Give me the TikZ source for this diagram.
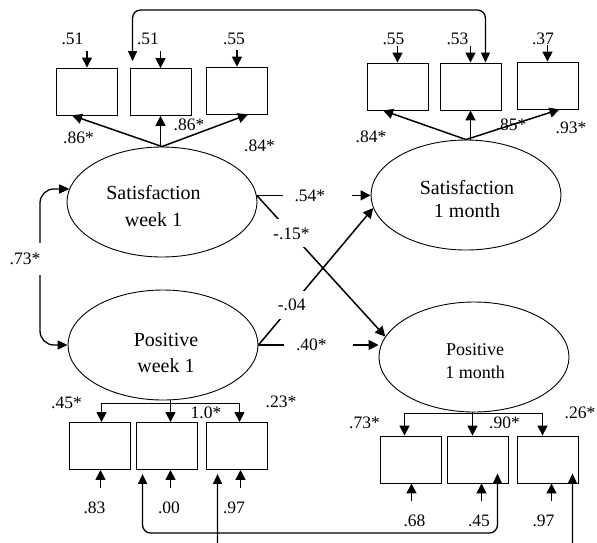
\documentclass[tikz,border=0pt]{standalone}
\usepackage{fontspec}
\setmainfont{Liberation Serif}
\usetikzlibrary{arrows.meta,shapes.geometric,calc}

\begin{document}
\begin{tikzpicture}[
  x=1pt,y=-1pt,
  lat/.style={draw,ellipse,line width=0.9pt,minimum width=190pt,minimum height=110pt,inner sep=0pt},
  ltxt/.style={align=center,inner sep=0pt,font=\fontsize{20}{27}\selectfont},
  obs/.style={draw,line width=0.9pt,minimum width=61pt,minimum height=47pt,inner sep=0pt},
  coef/.style={inner sep=1pt,font=\fontsize{17.5}{18}\selectfont},
  dcut/.style={coef,fill=white,minimum height=28pt},
  hcut/.style={coef,fill=white,text width=45pt,align=left,inner xsep=12pt},
  arr/.style={-{Triangle[length=10pt,width=10pt]},line width=1.5pt},
  dbl/.style={{Triangle[length=10pt,width=9pt]}-{Triangle[length=10pt,width=9pt]},line width=1.3pt,rounded corners=8pt}
]
\useasboundingbox (0,0) rectangle (597,542);
\clip (0,0) rectangle (597,542);

% latent factors
\node[lat] (sw) at (162,202) {};
\node[lat] (pw) at (163,345) {};
\node[lat] (sm) at (466,195) {};
\node[lat] (pm) at (474,357) {};
\node[ltxt] (swt) at (153.5,206.5) {Satisfaction\\week 1};
\node[ltxt,font=\fontsize{20}{26}\selectfont] (pwt) at (166,353) {Positive\\week 1};
\node[ltxt,font=\fontsize{20}{23}\selectfont] (smt) at (467,199.5) {Satisfaction\\1 month};
\node[ltxt,font=\fontsize{18}{23}\selectfont] (pmt) at (475,361.5) {Positive\\1 month};

% indicators
\node[obs] (s1a) at (87,91.5) {};
\node[obs] (s1b) at (160.5,92) {};
\node[obs] (s1c) at (237,90.5) {};
\node[obs] (s2a) at (397.5,86.5) {};
\node[obs] (s2b) at (470.5,86.5) {};
\node[obs] (s2c) at (547.5,85.5) {};
\node[obs] (p1a) at (99.5,446) {};
\node[obs] (p1b) at (166.5,446) {};
\node[obs] (p1c) at (236.5,446) {};
\node[obs] (p2a) at (410.5,459.5) {};
\node[obs] (p2b) at (477.5,459.5) {};
\node[obs] (p2c) at (547.5,459.5) {};

% error terms
\foreach \b in {s1a,s1b,s1c,s2a,s2b,s2c}
  \draw[arr] ([yshift=17pt]\b.north) -- (\b.north);
\foreach \b/\dx in {p1a/1,p1b/4,p1c/4,p2a/1,p2b/4,p2c/4}
  \draw[arr] ([xshift=\dx pt,yshift=-18pt]\b.south) -- ([xshift=\dx pt]\b.south);
\node[coef] (e1) at (72.5,39) {.51};
\node[coef] (e2) at (148,39) {.51};
\node[coef] (e3) at (234,39) {.55};
\node[coef] (e4) at (393.5,39) {.55};
\node[coef] (e5) at (457.5,39) {.53};
\node[coef] (e6) at (543,39) {.37};
\node[coef] (e7) at (94.5,508) {.83};
\node[coef] (e8) at (169,508) {.00};
\node[coef] (e9) at (234,508) {.97};
\node[coef] (e10) at (414.5,521) {.68};
\node[coef] (e11) at (479,521) {.45};
\node[coef] (e12) at (543.5,521) {.97};

% loadings
\draw[arr] (sw.north) -- ([xshift=-15pt]s1a.south);
\draw[arr] (sw.north -| s1b.south) -- (s1b.south);
\draw[arr] (sw.north) -- ([xshift=11pt]s1c.south);
\draw[arr] (sm.north) -- ([xshift=-14.5pt]s2a.south);
\draw[arr] (sm.north -| s2b.south) -- (s2b.south);
\draw[arr] (sm.north) -- ([xshift=12pt]s2c.south);

\coordinate (pwb) at ([yshift=-3pt]pw.south);
\coordinate (pmb) at ([yshift=-1pt]pm.south);
\draw[line width=1.2pt] ($(pwb -| p1a.north)+(2,0)$) -- ($(pwb -| p1c.north)+(3,0)$);
\draw[arr] ($(pwb -| p1a.north)+(2,0)$) -- ([xshift=2pt]p1a.north);
\draw[arr] ($(pw.south -| p1b.north)+(4,0)$) -- ([xshift=4pt]p1b.north);
\draw[arr] ($(pwb -| p1c.north)+(3,0)$) -- ([xshift=3pt]p1c.north);
\draw[line width=1.2pt] ($(pmb -| p2a.north)+(-6,0)$) -- ($(pmb -| p2c.north)+(-5,0)$);
\draw[arr] ($(pmb -| p2a.north)+(-6,0)$) -- ([xshift=-6pt]p2a.north);
\draw[arr] ($(pm.south -| p2b.north)+(-5,0)$) -- ([xshift=-5pt]p2b.north);
\draw[arr] ($(pmb -| p2c.north)+(-5,0)$) -- ([xshift=-5pt]p2c.north);

\node[coef] (l1) at (78.5,138) {.86*};
\node[coef] (l2) at (189,125) {.86*};
\node[coef] (l3) at (259.5,146) {.84*};
\node[coef] (l4) at (371,137) {.84*};
\node[coef] (l5) at (511,125) {.85*};
\node[coef] (l6) at (571,128) {.93*};
\node[coef] (l7) at (66.5,403) {.45*};
\node[coef] (l8) at (206,413) {1.0*};
\node[coef] (l9) at (281,402) {.23*};
\node[coef] (l10) at (364.5,423) {.73*};
\node[coef] (l11) at (504.5,423) {.90*};
\node[coef] (l12) at (580,413) {.26*};

% structural paths
\draw[arr] (sw.4) -- node[hcut,pos=0.53] (c1) {.54*} (sw.4 -| sm.west);
\draw[arr] (sw.4) -- node[dcut,pos=0.27] (c2) {-.15*} (pm.167);
\draw[arr] (pw.east) -- node[dcut,pos=0.29] (c3) {-.04} (sm.188);
\draw[arr] (pw.east) -- node[hcut,pos=0.5] (c4) {.40*} (pw.east -| pm.west);

% covariances
\coordinate (cl) at (40,268);
\draw[dbl,rounded corners=14pt] (sw.172) -| (cl) |- (pw.west);
\node[coef,fill=white,anchor=east,minimum height=32pt] (r1) at (41.5,259) {.73*};

\coordinate (tc) at (310,10);
\draw[dbl] ([xshift=3pt,yshift=7pt]s1b.north west) |- (tc) -| ([xshift=-16pt]s2b.north east);
\coordinate (bc1) at (320,533);
\coordinate (bc2) at (390,552);
\draw[dbl] ([xshift=7pt,yshift=-4pt]p1b.south west) |- (bc1) -| ([xshift=-11pt,yshift=10pt]p2b.south east);
\draw[dbl] ([xshift=12pt,yshift=-4pt]p1c.south west) |- (bc2) -| ([xshift=-6pt,yshift=10pt]p2c.south east);
\end{tikzpicture}
\end{document}
